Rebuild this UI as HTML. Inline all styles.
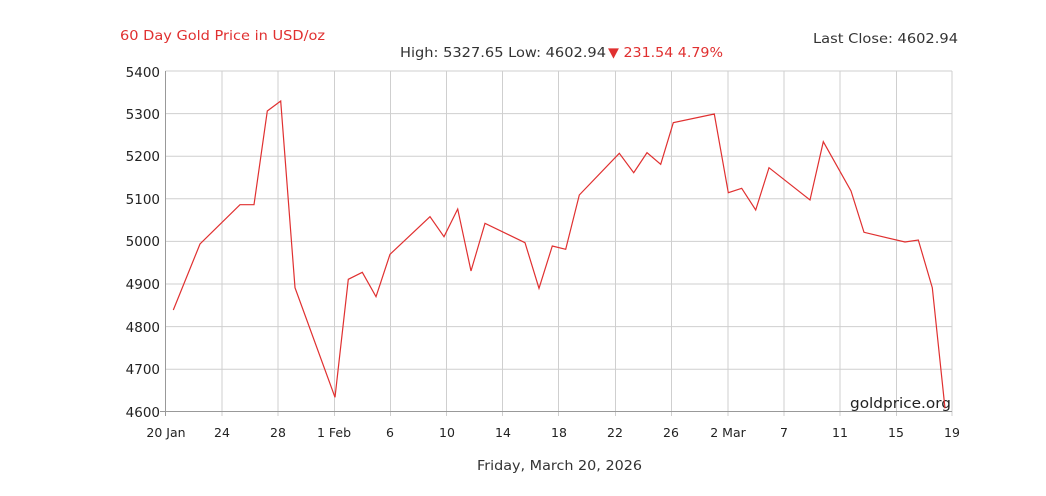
<!DOCTYPE html>
<html><head><meta charset="utf-8"><style>
body{margin:0;background:#fff;}
svg{display:block;font-family:"DejaVu Sans","Liberation Sans",sans-serif;}
</style></head><body>
<svg width="1046" height="496" viewBox="0 0 1046 496">
<rect width="1046" height="496" fill="#fff"/>
<text x="120" y="40" font-size="13.5" fill="#e03030" textLength="205" lengthAdjust="spacingAndGlyphs">60 Day Gold Price in USD/oz</text>
<text x="400" y="57" font-size="13.5" fill="#333" textLength="206" lengthAdjust="spacingAndGlyphs">High: 5327.65 Low: 4602.94</text>
<text x="608" y="57" font-size="13.5" fill="#e03030" textLength="115" lengthAdjust="spacingAndGlyphs">▼ 231.54 4.79%</text>
<text x="813" y="43" font-size="13.5" fill="#333" textLength="145" lengthAdjust="spacingAndGlyphs">Last Close: 4602.94</text>
<g stroke="#cfcfcf" stroke-width="1">
<line x1="165.5" y1="71" x2="952" y2="71"/><line x1="165.5" y1="113.6" x2="952" y2="113.6"/>
<line x1="165.5" y1="156.2" x2="952" y2="156.2"/><line x1="165.5" y1="198.8" x2="952" y2="198.8"/>
<line x1="165.5" y1="241.4" x2="952" y2="241.4"/><line x1="165.5" y1="284" x2="952" y2="284"/>
<line x1="165.5" y1="326.6" x2="952" y2="326.6"/><line x1="165.5" y1="369.2" x2="952" y2="369.2"/>
<line x1="222" y1="71" x2="222" y2="416"/><line x1="278" y1="71" x2="278" y2="416"/>
<line x1="334.5" y1="71" x2="334.5" y2="416"/><line x1="390.5" y1="71" x2="390.5" y2="416"/>
<line x1="446.5" y1="71" x2="446.5" y2="416"/><line x1="502.5" y1="71" x2="502.5" y2="416"/>
<line x1="558.5" y1="71" x2="558.5" y2="416"/><line x1="615.5" y1="71" x2="615.5" y2="416"/>
<line x1="671.5" y1="71" x2="671.5" y2="416"/><line x1="728" y1="71" x2="728" y2="416"/>
<line x1="784" y1="71" x2="784" y2="416"/><line x1="840" y1="71" x2="840" y2="416"/>
<line x1="896.5" y1="71" x2="896.5" y2="416"/><line x1="952" y1="71" x2="952" y2="416"/>
</g>
<line x1="165.5" y1="71" x2="165.5" y2="416" stroke="#999"/>
<line x1="160" y1="411.5" x2="952" y2="411.5" stroke="#999"/>
<g font-size="13.5" fill="#222" text-anchor="end">
<text x="160" y="77">5400</text><text x="160" y="119">5300</text><text x="160" y="161">5200</text>
<text x="160" y="204">5100</text><text x="160" y="246">5000</text><text x="160" y="289">4900</text>
<text x="160" y="332">4800</text><text x="160" y="374">4700</text><text x="160" y="417">4600</text>
</g>
<g font-size="12.5" fill="#222" text-anchor="middle">
<text x="166" y="437">20 Jan</text><text x="222" y="437">24</text><text x="278" y="437">28</text>
<text x="334" y="437">1 Feb</text><text x="390" y="437">6</text><text x="447" y="437">10</text>
<text x="503" y="437">14</text><text x="559" y="437">18</text><text x="615" y="437">22</text>
<text x="671" y="437">26</text><text x="728" y="437">2 Mar</text><text x="784" y="437">7</text>
<text x="840" y="437">11</text><text x="896" y="437">15</text><text x="952" y="437">19</text>
</g>
<text x="477" y="470" font-size="13.5" fill="#333" textLength="165" lengthAdjust="spacingAndGlyphs">Friday, March 20, 2026</text>
<text x="850" y="408" font-size="14.5" fill="#222" textLength="101" lengthAdjust="spacingAndGlyphs">goldprice.org</text>
<polyline fill="none" stroke="#e03030" stroke-width="1.2" points="173.3,310 200,244 240,204.7 254,204.7 267.3,111 280.7,101 295,287.7 335,397.3 348.3,279.3 362.3,272.3 376,296.7 390,254.3 430,216.7 444,236.7 457.7,209 471,271 485,223.3 525,242.7 539,288.3 552.3,246 565.7,249.3 579.3,195 619.3,153.3 633.7,172.7 647,152.7 660.7,164.3 673.3,122.7 714.3,114 728.3,192.7 741.7,188.3 755.7,210 769,167.7 810,200 823.3,141.7 851,191 864,232.3 905,242 918.3,240 932.3,287.7 945,408.3"/>
</svg>
</body></html>
